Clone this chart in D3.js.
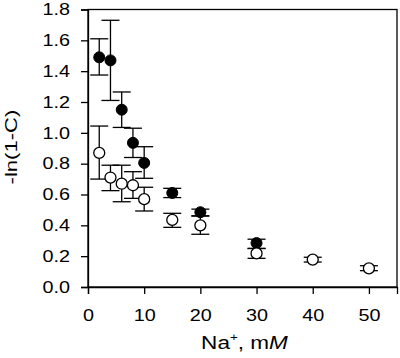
<!DOCTYPE html>
<html><head><meta charset="utf-8">
<script src="https://cdn.jsdelivr.net/npm/d3@7"></script>
<style>body{margin:0;background:#fff}svg{display:block}text{font-family:"Liberation Sans",Arial,sans-serif;fill:#000}</style>
</head><body><svg id="c" width="400" height="358"></svg>
<script>
// Filled circles
const filledX = [2, 4, 6, 8, 10, 15, 20, 30];
const filledY = [1.49, 1.47, 1.15, 0.935, 0.805, 0.61, 0.485, 0.285];
const filledLo = [1.375, 1.21, 1.035, 0.84, 0.705, 0.58, 0.462, 0.25];
const filledHi = [1.61, 1.73, 1.265, 1.03, 0.91, 0.64, 0.505, 0.31];
// Open circles
const openX = [2, 4, 6, 8, 10, 15, 20, 30, 40, 50];
const openY = [0.87, 0.71, 0.67, 0.66, 0.57, 0.435, 0.40, 0.218, 0.178, 0.121];
const openLo = [0.70, 0.625, 0.553, 0.575, 0.493, 0.387, 0.342, 0.186, 0.162, 0.106];
const openHi = [1.044, 0.79, 0.79, 0.748, 0.647, 0.478, 0.46, 0.25, 0.193, 0.138];
const xTicks = [0, 10, 20, 30, 40, 50];
const yTicks = [0.0, 0.2, 0.4, 0.6, 0.8, 1.0, 1.2, 1.4, 1.6, 1.8];

const L = 88, R = 397, T = 9.5, B = 287;
const SX = 1.2; // horizontal stretch of the original lettering
const svg = d3.select("#c");
const x = d3.scaleLinear().domain([0, 55]).range([L, R]);
const y = d3.scaleLinear().domain([0, 1.8]).range([B, T]);

svg.append("rect").attr("x", L).attr("y", T).attr("width", R - L).attr("height", B - T)
  .attr("fill", "none").attr("stroke", "#000").attr("stroke-width", 1.3);

const xa = svg.append("g").attr("transform", `translate(0,${B})`)
  .call(d3.axisBottom(x).tickValues(xTicks).tickSize(7).tickPadding(15).tickFormat(d3.format("d")));
const ya = svg.append("g").attr("transform", `translate(${L},0)`)
  .call(d3.axisLeft(y).tickValues(yTicks).tickSize(7).tickPadding(11).tickFormat(d3.format(".1f")));
[xa, ya].forEach(a => {
  a.select(".domain").attr("stroke", "#000").attr("stroke-width", 1.3);
  a.selectAll(".tick line").attr("stroke", "#000").attr("stroke-width", 1.3);
  a.selectAll(".tick text").attr("font-size", 16.5).attr("font-family", "Liberation Sans, Arial, sans-serif")
    .attr("transform", `scale(${SX},1)`);
});
ya.selectAll(".tick text").attr("x", -18 / SX);

const cap = 9;
function errBars(xs, lo, hi) {
  const g = svg.append("g").attr("stroke", "#000").attr("stroke-width", 1.3);
  xs.forEach((xv, i) => {
    g.append("line").attr("x1", x(xv)).attr("x2", x(xv)).attr("y1", y(lo[i])).attr("y2", y(hi[i]));
    [lo[i], hi[i]].forEach(v => g.append("line").attr("x1", x(xv) - cap).attr("x2", x(xv) + cap)
      .attr("y1", y(v)).attr("y2", y(v)));
  });
}
errBars(filledX, filledLo, filledHi);
svg.append("g").selectAll("circle").data(filledX).join("circle")
  .attr("cx", d => x(d)).attr("cy", (d, i) => y(filledY[i])).attr("r", 5.5)
  .attr("fill", "#000").attr("stroke", "#000").attr("stroke-width", 1);
errBars(openX, openLo, openHi);
svg.append("g").selectAll("circle").data(openX).join("circle")
  .attr("cx", d => x(d)).attr("cy", (d, i) => y(openY[i])).attr("r", 5.5)
  .attr("fill", "#fff").attr("stroke", "#000").attr("stroke-width", 1.3);

const xt = svg.append("g").attr("transform", `translate(${(L + R) / 2 + 2},349) scale(1.22,1)`)
  .append("text").attr("text-anchor", "middle").attr("font-size", 18.5);
xt.append("tspan").text("Na");
xt.append("tspan").text("+").attr("font-size", 11).attr("dy", -8);
xt.append("tspan").text(", m").attr("dy", 8);
xt.append("tspan").text("M").attr("font-style", "italic");

svg.append("g").attr("transform", `translate(17,147) rotate(-90) scale(1.3,1)`)
  .append("text").attr("text-anchor", "middle").attr("font-size", 17).text("-ln(1-C)");
</script></body></html>
